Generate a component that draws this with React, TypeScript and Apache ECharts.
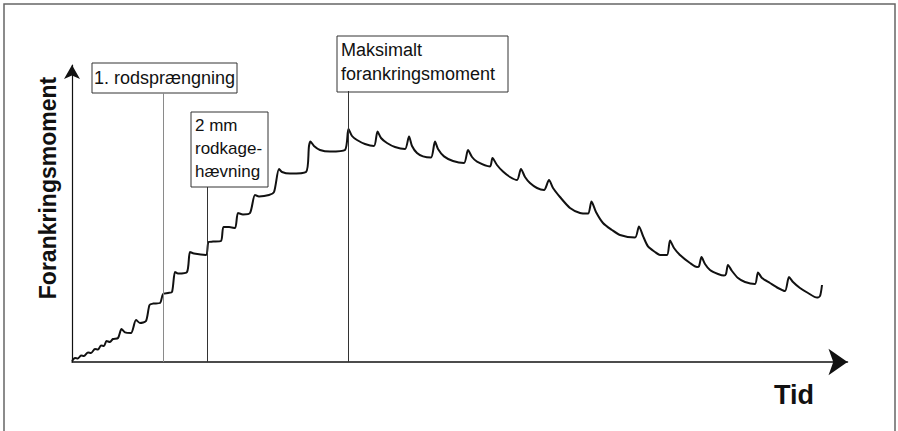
import React, { useEffect, useRef } from "react";
import * as echarts from "echarts";

// Time (arbitrary units) and anchoring moment (arbitrary units)
const timeValues = [
  0, 0.5, 1.0, 1.5, 2.0, 2.67, 3.17, 3.83, 4.33, 4.83,
  5.33, 5.75, 6.33, 6.83, 7.67, 8.25, 8.83, 9.83, 10.67, 11.33,
  12.33, 12.92, 13.5, 14.67, 15.17, 16.0, 16.67, 17.17, 17.67, 19.17,
  19.67, 20.33, 22.33, 22.75, 23.5, 24.83, 25.25, 26.17, 27.17, 27.67,
  28.5, 29.67, 30.5, 31.17, 32.83, 33.67, 34.5, 35.0, 36.33, 39.0,
  39.5, 39.75, 40.33, 41.33, 43.0, 45.5, 46.08, 46.67, 47.5, 48.83,
  50.33, 50.92, 51.5, 52.5, 53.83, 55.5, 56.17, 56.67, 57.5, 58.5,
  59.83, 60.5, 61.0, 62.0, 63.5, 65.33, 66.0, 66.67, 67.5, 69.67,
  70.08, 70.83, 71.83, 73.0, 74.17, 74.83, 75.5, 76.33, 77.5, 78.67,
  79.5, 80.17, 81.33, 83.0, 84.67, 86.0, 86.58, 87.33, 88.5, 90.0,
  91.33, 93.83, 94.5, 95.17, 96.0, 97.17, 98.0, 99.17, 99.67, 100.33,
  101.33, 103.0, 104.17, 104.5, 104.92, 105.5, 106.33, 107.67, 108.67, 109.0,
  109.33, 110.0, 111.0, 112.17, 113.83, 114.33, 115.0, 116.33, 117.67, 118.83,
  119.5, 120.17, 121.33, 122.67, 124.17, 124.67, 125.0,
];

const momentValues = [
  0.25, 1.0, 0.9, 1.6, 1.5, 2.4, 2.25, 3.25, 3.1, 4.1,
  4.0, 5.25, 5.0, 5.75, 6.0, 8.25, 7.4, 7.25, 10.5, 9.75,
  10.25, 14.25, 14.6, 14.75, 17.0, 17.25, 17.5, 22.5, 22.1, 22.5,
  27.5, 27.1, 26.75, 30.0, 30.1, 30.25, 33.75, 33.75, 33.5, 37.25,
  36.9, 37.25, 41.75, 41.4, 41.75, 42.5, 48.25, 47.5, 47.1, 47.5,
  54.0, 55.1, 54.0, 53.0, 52.6, 53.0, 58.25, 56.5, 55.5, 54.5,
  54.0, 57.6, 56.0, 54.75, 53.75, 53.25, 56.4, 54.0, 52.25, 51.4,
  51.1, 55.1, 53.25, 51.4, 50.25, 49.75, 53.0, 51.25, 50.1, 48.9,
  51.0, 49.25, 47.6, 46.25, 45.5, 48.25, 46.25, 44.75, 43.5, 43.0,
  45.5, 43.5, 41.25, 38.5, 37.25, 37.1, 40.1, 37.5, 34.75, 33.0,
  31.75, 31.1, 33.9, 31.5, 28.9, 27.5, 26.75, 26.75, 30.4, 28.5,
  26.75, 24.75, 23.75, 23.9, 26.25, 24.5, 23.0, 22.0, 21.6, 22.0,
  24.25, 22.75, 21.0, 20.0, 19.5, 22.4, 21.0, 19.75, 18.5, 17.75,
  21.25, 20.0, 18.5, 17.25, 16.1, 16.5, 19.25,
];

// Annotation events: time and top of leader line
const eventNames = ["1. rodsprængning", "2 mm\nrodkage-\nhævning", "Maksimalt\nforankringsmoment"];
const eventTimes = [15.17, 22.5, 46.0];
const eventLineTops = [67.25, 43.75, 67.75];

const xMax = 129.25;
const yMax = 74.25;

const FONT = '"Liberation Sans", Arial, Helvetica, sans-serif';

export default function App() {
  const ref = useRef<HTMLDivElement>(null);

  useEffect(() => {
    if (!ref.current) return;
    const chart = echarts.init(ref.current, undefined, { renderer: "svg" });
    const data = timeValues.map((t, i) => [t, momentValues[i]]);
    const lineColors = ["#8a8a8a", "#333", "#333"];

    chart.setOption({
      animation: false,
      backgroundColor: "#fff",
      grid: { left: 72, right: 50.5, top: 65, bottom: 69 },
      xAxis: {
        type: "value",
        min: 0,
        max: xMax,
        axisLine: {
          show: true,
          symbol: ["none", "arrow"],
          symbolSize: [20, 19],
          lineStyle: { color: "#111", width: 1.5 },
        },
        axisTick: { show: false },
        axisLabel: { show: false },
        splitLine: { show: false },
      },
      yAxis: {
        type: "value",
        min: 0,
        max: yMax,
        axisLine: {
          show: true,
          symbol: ["none", "arrow"],
          symbolSize: [12, 14],
          lineStyle: { color: "#111", width: 1.2 },
        },
        axisTick: { show: false },
        axisLabel: { show: false },
        splitLine: { show: false },
      },
      series: [
        {
          type: "line",
          data,
          showSymbol: false,
          smooth: 0.25,
          lineStyle: { color: "#111", width: 2 },
          markLine: {
            silent: true,
            symbol: ["none", "none"],
            label: { show: false },
            data: eventTimes.map((t, i) => [
              { coord: [t, 0], lineStyle: { color: lineColors[i], width: 1, type: "solid" } },
              { coord: [t, eventLineTops[i]] },
            ]),
          },
        },
      ],
      graphic: [
        {
          type: "rect",
          shape: { x: 4, y: 4, width: 891, height: 440 },
          style: { fill: "none", stroke: "#666", lineWidth: 1.5 },
          silent: true,
        },
        {
          type: "rect",
          shape: { x: 92, y: 63, width: 145, height: 30 },
          style: { fill: "#fff", stroke: "#333", lineWidth: 1 },
        },
        {
          type: "text",
          x: 94,
          y: 78,
          style: {
            text: eventNames[0],
            font: `18px ${FONT}`,
            fill: "#111",
            verticalAlign: "middle",
            align: "left",
          },
        },
        {
          type: "rect",
          shape: { x: 191, y: 112, width: 77, height: 75 },
          style: { fill: "#fff", stroke: "#333", lineWidth: 1 },
        },
        {
          type: "text",
          x: 195,
          y: 114,
          style: {
            text: eventNames[1],
            font: `17px ${FONT}`,
            lineHeight: 23,
            fill: "#111",
            verticalAlign: "top",
            align: "left",
          },
        },
        {
          type: "rect",
          shape: { x: 337, y: 36, width: 171, height: 56 },
          style: { fill: "#fff", stroke: "#333", lineWidth: 1 },
        },
        {
          type: "text",
          x: 341,
          y: 38,
          style: {
            text: eventNames[2],
            font: `18px ${FONT}`,
            lineHeight: 24,
            fill: "#111",
            verticalAlign: "top",
            align: "left",
          },
        },
        {
          type: "text",
          x: 48,
          y: 188,
          rotation: Math.PI / 2,
          style: {
            text: "Forankringsmoment",
            font: `bold 23px ${FONT}`,
            fill: "#111",
            align: "center",
            verticalAlign: "middle",
          },
        },
        {
          type: "text",
          x: 794,
          y: 395,
          style: {
            text: "Tid",
            font: `bold 27px ${FONT}`,
            fill: "#111",
            align: "center",
            verticalAlign: "middle",
          },
        },
      ],
    });

    return () => chart.dispose();
  }, []);

  return (
    <div
      ref={ref}
      style={{ position: "fixed", left: 0, top: 0, width: 898, height: 431, background: "#fff" }}
    />
  );
}
